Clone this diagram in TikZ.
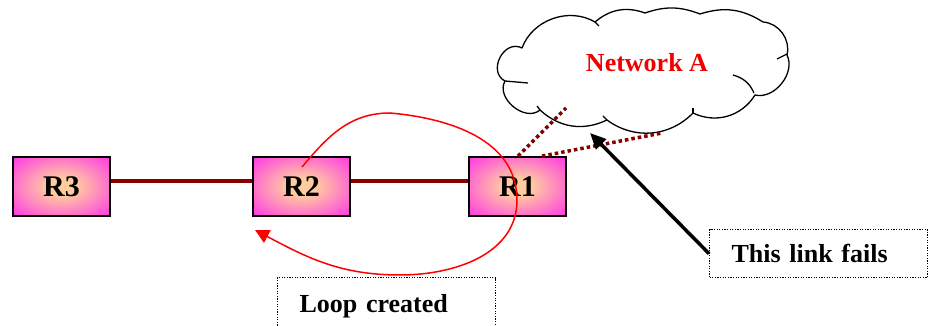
\documentclass[tikz,border=0pt]{standalone}
\usepackage{fontspec}
\setmainfont{Liberation Serif}
\usetikzlibrary{arrows.meta}

\definecolor{linkred}{RGB}{135,0,0}
\definecolor{peach}{RGB}{255,204,160}
\definecolor{routermag}{RGB}{255,0,255}
\definecolor{cloudred}{RGB}{240,0,0}

% router fill: warm centre fading to magenta at the rim
\pgfdeclareradialshading{routershade}{\pgfpoint{0bp}{0bp}}{%
  color(0bp)=(peach); color(7bp)=(peach); color(46bp)=(routermag); color(50bp)=(routermag)}

\tikzset{
  router/.style={draw=black, line width=1.8pt, shading=routershade,
    minimum width=97pt, minimum height=59pt, inner sep=0pt,
    font=\bfseries\fontsize{30}{30}\selectfont},
  link/.style={draw=linkred, line width=4pt},
  faillink/.style={draw=linkred, line width=3.5pt, dash pattern=on 3.5pt off 3pt},
  cloudline/.style={draw=black, line width=1.3pt, line join=round},
  note/.style={draw=black, line width=1.2pt, dash pattern=on 1.2pt off 1.4pt,
    anchor=north west, inner xsep=22pt, inner ysep=0pt, align=left,
    text width=174pt, font=\bfseries\fontsize{26}{26}\selectfont},
  loopline/.style={draw=red, line width=1.5pt},
}

\begin{document}
\begin{tikzpicture}[x=1pt, y=1pt]
  \useasboundingbox (0,0) rectangle (930,326);
  \clip (0,0) rectangle (930,326);
  \fill[white] (0,0) rectangle (930,326);

  % routers
  \node[router] (R3) at (61.5,139.5) {R3};
  \node[router] (R2) at (301.5,139.5) {R2};
  \node[router] (R1) at (517.5,139.5) {R1};

  % cloud outline, lobe by lobe
  \draw[cloudline, fill=white]
    (522,278) to[bend left=50] (595,304) to[bend left=30] (645,313)
    to[bend left=20] (700,312) to[bend left=25] (763,304)
    to[bend left=50] (787,271) to[bend left=65] (755,231)
    to[bend left=42] (693,213) to[bend left=41] (607,206)
    to[bend left=34] (540,216) to[bend left=80, looseness=1.1] (505,245)
    to[bend left=90, looseness=1.4] (522,278) -- cycle;
  % inner strokes where lobes meet
  \draw[cloudline] (505,245) -- (528,243);
  \draw[cloudline] (787,272) -- (777,267);
  \draw[cloudline] (733,251) to[bend left=25] (754,233);
  \draw[cloudline] (607,206) -- (603,210);
  \draw[cloudline] (595,304) -- (599,300);
  \draw[cloudline] (540,216) -- (537,220);
  \draw[cloudline] (693,213) -- (693,218);
  \node[text=cloudred, font=\bfseries\fontsize{26}{26}\selectfont] (netA) at (647,263) {Network A};

  % links between the routers
  \draw[link] ([yshift=5.5pt]R3.east) -- ([yshift=5.5pt]R2.west);
  \draw[link] ([yshift=5.5pt]R2.east) -- ([yshift=5.5pt]R1.west);

  % links from R1 into Network A
  \coordinate (cloudA) at (566,218);
  \coordinate (cloudB) at (662,193);
  \draw[faillink] ([xshift=0.5pt]R1.north) -- (cloudA);
  \draw[faillink] ([xshift=24.5pt]R1.north) -- (cloudB);

  % callouts
  \node[note, minimum height=48pt] (fails) at (709,97) {This link fails};
  \node[note, minimum height=58pt] (loopnote) at (277,49) {Loop created};

  \coordinate (failpt) at (590,193);
  \draw[line width=3.5pt, -{Triangle[length=16pt,width=14pt]}] (fails.west) -- (failpt);

  % the routing loop
  \coordinate (loopstart) at (302,159);
  \coordinate (looptop) at (390,213);
  \coordinate (loopright) at (517,126);
  \coordinate (loopbottom) at (400,51);
  \coordinate (loopend) at (255,96);
  \draw[loopline, -{Triangle[length=14pt,width=14pt]}]
    (loopstart) to[out=50, in=180] (looptop)
    to[out=-5, in=90] (loopright)
    to[out=-90, in=0] (loopbottom)
    to[out=180, in=-28] (loopend);
\end{tikzpicture}
\end{document}
